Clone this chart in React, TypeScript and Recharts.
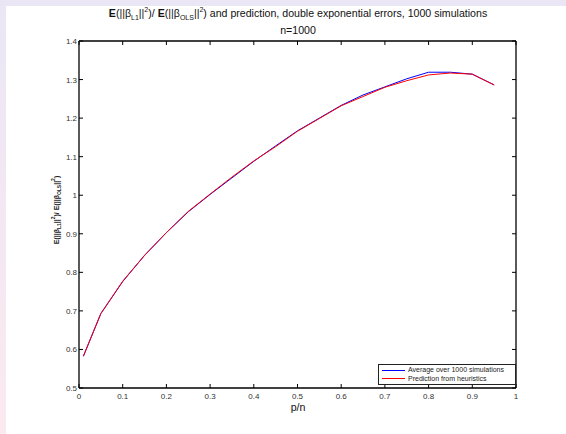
import { LineChart, Line, XAxis, YAxis, Legend } from "recharts";

const P_OVER_N = [0.01, 0.05, 0.1, 0.15, 0.2, 0.25, 0.3, 0.35, 0.4, 0.45, 0.5, 0.55, 0.6, 0.65, 0.7, 0.75, 0.8, 0.85, 0.9, 0.95];
const AVERAGE = [0.582, 0.693, 0.776, 0.844, 0.903, 0.957, 1.002, 1.045, 1.088, 1.128, 1.167, 1.2, 1.233, 1.26, 1.281, 1.302, 1.319, 1.319, 1.314, 1.286];
const PREDICTION = [0.583, 0.693, 0.777, 0.844, 0.903, 0.958, 1.003, 1.047, 1.089, 1.126, 1.166, 1.199, 1.232, 1.256, 1.28, 1.297, 1.312, 1.317, 1.314, 1.286];
const X_TICKS = [0, 0.1, 0.2, 0.3, 0.4, 0.5, 0.6, 0.7, 0.8, 0.9, 1];
const Y_TICKS = [0.5, 0.6, 0.7, 0.8, 0.9, 1, 1.1, 1.2, 1.3, 1.4];

const data = P_OVER_N.map((p, i) => ({ p, avg: AVERAGE[i], pred: PREDICTION[i] }));

const FONT = "'Liberation Sans', Arial, Helvetica, sans-serif";
const fmt = (v: number) => String(Number(v.toFixed(1)));

function BottomTick({ x, y, payload }: any) {
  return (
    <g>
      <line x1={x} x2={x} y1={y} y2={y - 4} stroke="#000" />
      <text x={x} y={y + 11} textAnchor="middle" fontSize={8} fill="#333" fontFamily={FONT}>{fmt(payload.value)}</text>
    </g>
  );
}
function TopTick({ x, y }: any) {
  return <line x1={x} x2={x} y1={y} y2={y + 4} stroke="#000" />;
}
function LeftTick({ x, y, payload }: any) {
  return (
    <g>
      <line x1={x} x2={x + 4} y1={y} y2={y} stroke="#000" />
      <text x={x - 2} y={y + 3} textAnchor="end" fontSize={8} fill="#333" fontFamily={FONT}>{fmt(payload.value)}</text>
    </g>
  );
}
function RightTick({ x, y }: any) {
  return <line x1={x} x2={x - 4} y1={y} y2={y} stroke="#000" />;
}

function LegendBox() {
  const rows = [
    { label: "Average over 1000 simulations", color: "#0000ff" },
    { label: "Prediction from heuristics", color: "#ff0000" },
  ];
  return (
    <div style={{ border: "1px solid #222", background: "#fff", padding: "1px 0 1px 3px", fontFamily: FONT, fontSize: 7, lineHeight: "8.5px", color: "#222" }}>
      {rows.map(r => (
        <div key={r.label} style={{ display: "flex", alignItems: "center" }}>
          <span style={{ width: 23, height: 1, background: r.color, display: "inline-block", marginRight: 3 }} />
          <span>{r.label}</span>
        </div>
      ))}
    </div>
  );
}

export default function App() {
  const sub = { fontSize: 7, lineHeight: 0 };
  const subY = { fontSize: 5, lineHeight: 0 };
  return (
    <div style={{ position: "absolute", left: 0, top: 0, width: 566, height: 434, background: "linear-gradient(#ebe6f5, #fbe9f0)", overflow: "hidden" }}>
      <div style={{ position: "absolute", left: 6, top: 6, width: 560, height: 428, background: "#fff" }} />
      <div style={{ position: "absolute", left: 0, top: 7, width: 596, textAlign: "center", fontFamily: FONT, fontSize: 10.6, lineHeight: "12px", color: "#111", whiteSpace: "nowrap" }}>
        <b>E</b>(||β<sub style={sub}>L1</sub>||<sup style={sub}>2</sup>)/ <b>E</b>(||β<sub style={sub}>OLS</sub>||<sup style={sub}>2</sup>) and prediction, double exponential errors, 1000 simulations
      </div>
      <div style={{ position: "absolute", left: 0, top: 24, width: 596, textAlign: "center", fontFamily: FONT, fontSize: 10.6, lineHeight: "12px", color: "#111" }}>n=1000</div>
      <div style={{ position: "absolute", left: 0, top: 401, width: 596, textAlign: "center", fontFamily: FONT, fontSize: 10.6, lineHeight: "12px", color: "#111" }}>p/n</div>
      <div style={{ position: "absolute", left: 56, top: 210, transform: "translate(-50%, -50%) rotate(-90deg)", fontFamily: FONT, fontSize: 7, fontWeight: "bold", color: "#222", whiteSpace: "nowrap" }}>
        E(||β<sub style={subY}>L1</sub>||<sup style={subY}>2</sup>)/ E(||β<sub style={subY}>OLS</sub>||<sup style={subY}>2</sup>)
      </div>
      <div style={{ position: "absolute", left: 0, top: 0 }}>
        <LineChart width={566} height={434} data={data} margin={{ top: 31, right: 40, bottom: 26, left: 39 }}>
          <XAxis xAxisId="bottom" dataKey="p" type="number" domain={[0, 1]} ticks={X_TICKS} height={20} tickSize={0} tickMargin={0} tickLine={false} axisLine={{ stroke: "#000", strokeWidth: 1.3 }} tick={<BottomTick />} interval={0} allowDataOverflow />
          <XAxis xAxisId="top" orientation="top" dataKey="p" type="number" domain={[0, 1]} ticks={X_TICKS} height={10} tickSize={0} tickMargin={0} tickLine={false} axisLine={{ stroke: "#000", strokeWidth: 1.3 }} tick={<TopTick />} interval={0} allowDataOverflow />
          <YAxis yAxisId="left" type="number" domain={[0.5, 1.4]} ticks={Y_TICKS} width={40} tickSize={0} tickMargin={0} tickLine={false} axisLine={{ stroke: "#000", strokeWidth: 1.3 }} tick={<LeftTick />} interval={0} allowDataOverflow />
          <YAxis yAxisId="right" orientation="right" type="number" domain={[0.5, 1.4]} ticks={Y_TICKS} width={10} tickSize={0} tickMargin={0} tickLine={false} axisLine={{ stroke: "#000", strokeWidth: 1.3 }} tick={<RightTick />} interval={0} allowDataOverflow />
          <Legend layout="horizontal" verticalAlign="middle" align="center" content={<LegendBox />} wrapperStyle={{ left: 378, top: 364, width: 138, height: 20 }} />
          <Line xAxisId="bottom" yAxisId="left" dataKey="avg" name="Average over 1000 simulations" stroke="#0000ff" strokeWidth={1} dot={false} isAnimationActive={false} type="linear" />
          <Line xAxisId="bottom" yAxisId="left" dataKey="pred" name="Prediction from heuristics" stroke="#ff0000" strokeWidth={1} dot={false} isAnimationActive={false} type="linear" />
        </LineChart>
      </div>
    </div>
  );
}
